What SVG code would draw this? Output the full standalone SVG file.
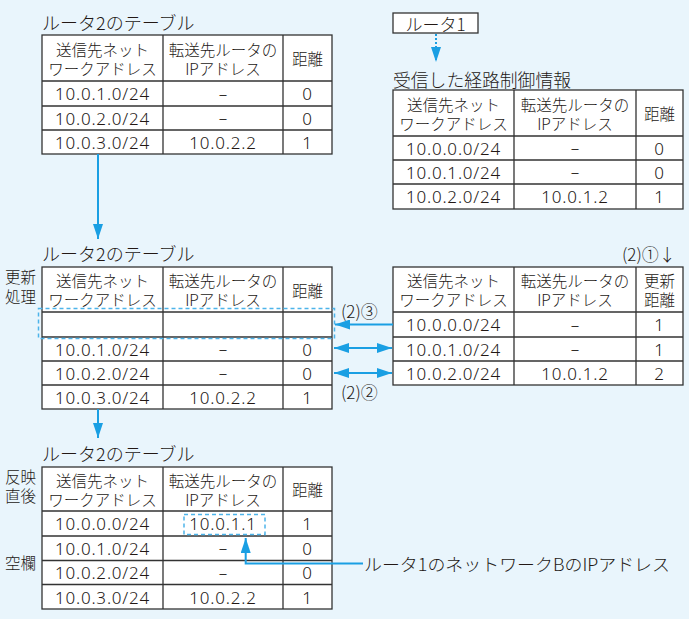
<svg xmlns="http://www.w3.org/2000/svg" width="689" height="619" viewBox="0 0 689 619">
<style>
.tbl{fill:#fff;stroke:#333;stroke-width:1.3}
.grid{fill:none;stroke:#333;stroke-width:1.3}
text{fill:#231815;dominant-baseline:central}
.jp{font-family:"Noto Sans CJK JP","Noto Sans CJK SC",sans-serif;font-weight:300;font-size:15.5px;text-anchor:middle}
.num{font-family:"Noto Sans","DejaVu Sans",sans-serif;font-weight:300;font-size:17px;letter-spacing:0.8px;text-anchor:middle}
.dsh{font-family:"Noto Sans","DejaVu Sans",sans-serif;font-weight:300;font-size:17px;text-anchor:middle}
.ttl{font-family:"Noto Sans CJK JP",sans-serif;font-weight:300;font-size:18px}
.side{font-family:"Noto Sans CJK JP",sans-serif;font-weight:300;font-size:15.5px}
.lbl{font-family:"Noto Sans CJK JP",sans-serif;font-weight:300;font-size:17px}
.arr{fill:none;stroke:#1a9fe3;stroke-width:2}
.dash{fill:none;stroke:#4db4ea;stroke-width:1.5;stroke-dasharray:4 3}
</style>
<defs>
<marker id="ah" markerUnits="userSpaceOnUse" markerWidth="15" markerHeight="10" refX="15" refY="5" orient="auto-start-reverse" viewBox="0 0 15 10">
<path d="M0,0L15,5L0,10z" fill="#1a9fe3"/>
</marker>
</defs>
<rect width="689" height="619" fill="#e9f5fc"/>

<g id="router1">
<rect x="393" y="13" width="85" height="20" fill="#fff" stroke="#333" stroke-width="1.3"/>
<text class="lbl" x="435.5" y="23" text-anchor="middle">ルータ1</text>
</g>

<g id="table1">
<text class="ttl" x="42" y="22">ルータ2のテーブル</text>
<rect class="tbl" x="42" y="35" width="290" height="119"/>
<path class="grid" d="M163,35V154M283,35V154M42,81H332M42,106H332M42,130H332"/>
<text class="jp" x="102.5" y="48.5">送信先ネット</text>
<text class="jp" x="102.5" y="67.5">ワークアドレス</text>
<text class="jp" x="223" y="48.5">転送先ルータの</text>
<text class="jp" x="223" y="67.5">IPアドレス</text>
<text class="jp" x="307.5" y="58">距離</text>
<text class="num" x="102.5" y="93.5">10.0.1.0/24</text>
<text class="dsh" x="223" y="93">–</text>
<text class="num" x="307.5" y="93.5">0</text>
<text class="num" x="102.5" y="118">10.0.2.0/24</text>
<text class="dsh" x="223" y="117.5">–</text>
<text class="num" x="307.5" y="118">0</text>
<text class="num" x="102.5" y="142">10.0.3.0/24</text>
<text class="num" x="223" y="142">10.0.2.2</text>
<text class="num" x="307.5" y="142">1</text>
</g>

<g id="table2">
<text class="ttl" x="393" y="78.5" textLength="178" lengthAdjust="spacingAndGlyphs">受信した経路制御情報</text>
<rect class="tbl" x="393" y="90" width="290" height="119"/>
<path class="grid" d="M514,90V209M636,90V209M393,136H683M393,160H683M393,184H683"/>
<text class="jp" x="453.5" y="103.5">送信先ネット</text>
<text class="jp" x="453.5" y="122.5">ワークアドレス</text>
<text class="jp" x="575" y="103.5">転送先ルータの</text>
<text class="jp" x="575" y="122.5">IPアドレス</text>
<text class="jp" x="659.5" y="113">距離</text>
<text class="num" x="453.5" y="148">10.0.0.0/24</text>
<text class="dsh" x="575" y="147.5">–</text>
<text class="num" x="659.5" y="148">0</text>
<text class="num" x="453.5" y="172">10.0.1.0/24</text>
<text class="dsh" x="575" y="171.5">–</text>
<text class="num" x="659.5" y="172">0</text>
<text class="num" x="453.5" y="196.5">10.0.2.0/24</text>
<text class="num" x="575" y="196.5">10.0.1.2</text>
<text class="num" x="659.5" y="196.5">1</text>
</g>

<g id="table3">
<text class="ttl" x="42" y="253">ルータ2のテーブル</text>
<text class="side" x="5" y="276">更新</text>
<text class="side" x="5" y="296">処理</text>
<rect class="tbl" x="42" y="267" width="290" height="142"/>
<path class="grid" d="M163,267V409M283,267V409M42,312H332M42,337H332M42,361H332M42,385H332"/>
<text class="jp" x="102.5" y="280">送信先ネット</text>
<text class="jp" x="102.5" y="299">ワークアドレス</text>
<text class="jp" x="223" y="280">転送先ルータの</text>
<text class="jp" x="223" y="299">IPアドレス</text>
<text class="jp" x="307.5" y="289.5">距離</text>
<text class="num" x="102.5" y="349">10.0.1.0/24</text>
<text class="dsh" x="223" y="348.5">–</text>
<text class="num" x="307.5" y="349">0</text>
<text class="num" x="102.5" y="373">10.0.2.0/24</text>
<text class="dsh" x="223" y="372.5">–</text>
<text class="num" x="307.5" y="373">0</text>
<text class="num" x="102.5" y="397">10.0.3.0/24</text>
<text class="num" x="223" y="397">10.0.2.2</text>
<text class="num" x="307.5" y="397">1</text>
<rect class="dash" x="38.5" y="308.5" width="296" height="30"/>
</g>

<g id="table4">
<text class="lbl" x="622" y="253">(2)①↓</text>
<rect class="tbl" x="393" y="267" width="290" height="118"/>
<path class="grid" d="M514,267V385M636,267V385M393,312H683M393,337H683M393,361H683"/>
<text class="jp" x="453.5" y="280">送信先ネット</text>
<text class="jp" x="453.5" y="299">ワークアドレス</text>
<text class="jp" x="575" y="280">転送先ルータの</text>
<text class="jp" x="575" y="299">IPアドレス</text>
<text class="jp" x="659.5" y="280">更新</text>
<text class="jp" x="659.5" y="299">距離</text>
<text class="num" x="453.5" y="324.5">10.0.0.0/24</text>
<text class="dsh" x="575" y="324">–</text>
<text class="num" x="659.5" y="324.5">1</text>
<text class="num" x="453.5" y="349">10.0.1.0/24</text>
<text class="dsh" x="575" y="348.5">–</text>
<text class="num" x="659.5" y="349">1</text>
<text class="num" x="453.5" y="373">10.0.2.0/24</text>
<text class="num" x="575" y="373">10.0.1.2</text>
<text class="num" x="659.5" y="373">2</text>
</g>

<g id="table5">
<text class="ttl" x="42" y="453">ルータ2のテーブル</text>
<text class="side" x="5" y="476">反映</text>
<text class="side" x="5" y="495">直後</text>
<text class="side" x="5" y="561.5">空欄</text>
<rect class="tbl" x="42" y="467" width="290" height="142"/>
<path class="grid" d="M163,467V609M283,467V609M42,511H332M42,536H332M42,560.5H332M42,584.5H332"/>
<text class="jp" x="102.5" y="479.5">送信先ネット</text>
<text class="jp" x="102.5" y="498.5">ワークアドレス</text>
<text class="jp" x="223" y="479.5">転送先ルータの</text>
<text class="jp" x="223" y="498.5">IPアドレス</text>
<text class="jp" x="307.5" y="489">距離</text>
<text class="num" x="102.5" y="523.5">10.0.0.0/24</text>
<text class="num" x="223" y="523.5">10.0.1.1</text>
<text class="num" x="307.5" y="523.5">1</text>
<text class="num" x="102.5" y="548">10.0.1.0/24</text>
<text class="dsh" x="223" y="547.5">–</text>
<text class="num" x="307.5" y="548">0</text>
<text class="num" x="102.5" y="572.5">10.0.2.0/24</text>
<text class="dsh" x="223" y="572">–</text>
<text class="num" x="307.5" y="572.5">0</text>
<text class="num" x="102.5" y="597">10.0.3.0/24</text>
<text class="num" x="223" y="597">10.0.2.2</text>
<text class="num" x="307.5" y="597">1</text>
<rect class="dash" x="184" y="514.5" width="81" height="20"/>
</g>

<g id="note">
<text class="lbl" x="364" y="563" textLength="306" lengthAdjust="spacingAndGlyphs">ルータ1のネットワークBのIPアドレス</text>
</g>

<g id="connectors">
<path class="arr" d="M436,34V62" stroke-dasharray="2 2" marker-end="url(#ah)"/>
<path class="arr" d="M98,154V239" marker-end="url(#ah)"/>
<path class="arr" d="M98,409V438" marker-end="url(#ah)"/>
<path class="arr" d="M393,324.5H335" marker-end="url(#ah)"/>
<path class="arr" d="M334,348H392" marker-start="url(#ah)" marker-end="url(#ah)"/>
<path class="arr" d="M334,373H392" marker-start="url(#ah)" marker-end="url(#ah)"/>
<path class="arr" d="M363,563.5H245.7V538" marker-end="url(#ah)"/>
<text class="lbl" x="341" y="310">(2)③</text>
<text class="lbl" x="341" y="391.5">(2)②</text>
</g>
</svg>
